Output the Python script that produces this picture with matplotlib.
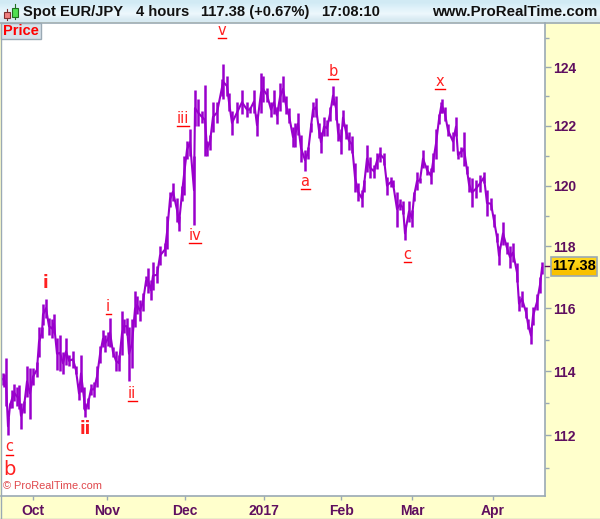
#!/usr/bin/env python3
import matplotlib
matplotlib.use("Agg")
import matplotlib.pyplot as plt
import numpy as np
from matplotlib.patches import Rectangle
from matplotlib.ticker import NullFormatter

# bar number, bar high, bar low
bars = [3, 4, 6, 8, 10, 12, 14, 17, 19, 21, 24, 27, 30, 33, 37, 39, 42, 43, 46, 49,
        52, 54, 57, 60, 63, 66, 69, 73, 76, 79, 81, 84, 85, 88, 91, 94, 97, 100, 103, 105,
        108, 110, 113, 116, 119, 122, 124, 127, 129, 132, 135, 137, 140, 143, 146, 148, 151, 153, 157, 160,
        165, 167, 170, 173, 177, 179, 182, 184, 187, 190, 194, 195, 198, 202, 205, 207, 210, 213, 217, 222,
        223, 227, 229, 232, 237, 242, 247, 250, 254, 257, 261, 263, 267, 271, 274, 277, 280, 283, 286, 289,
        293, 295, 298, 301, 305, 308, 311, 313, 316, 319, 321, 324, 327, 330, 333, 336, 338, 341, 343, 346,
        349, 352, 355, 358, 362, 364, 367, 370, 374, 377, 380, 384, 387, 391, 393, 397, 400, 403, 405, 409,
        412, 414, 417, 420, 423, 427, 431, 433, 436, 439, 441, 442, 445, 448, 453, 456, 458, 461, 464, 467,
        469, 472, 476, 480, 484, 487, 491, 494, 497, 499, 503, 507, 510, 513, 517, 519, 522, 526, 528, 531,
        533, 537, 540, 542]
highs = [113.95, 113.9, 114.4, 112.55, 113.0, 113.4, 113.6, 113.5, 113.55, 113.0, 113.05, 114.15, 114.1, 114.1, 114.3, 115.4, 115.4, 116.15, 116.3, 115.7,
         115.65, 115.8, 115.05, 115.15, 114.6, 115.05, 114.5, 114.65, 114.15, 113.5, 114.5, 113.5, 113.0, 113.15, 113.6, 113.65, 114.15, 114.8, 115.3, 115.15,
         115.25, 115.7, 114.75, 114.65, 114.5, 115.9, 115.65, 115.7, 115.4, 115.65, 116.55, 116.4, 116.25, 116.5, 117.05, 117.3, 116.9, 117.5, 117.35, 118.0,
         118.1, 119.0, 119.8, 120.1, 119.6, 119.0, 120.0, 121.0, 121.5, 121.9, 121.0, 123.2, 122.9, 122.5, 123.4, 121.5, 121.7, 122.8, 122.8, 123.6,
         124.1, 123.7, 123.1, 122.5, 122.8, 123.2, 122.8, 122.65, 123.2, 122.4, 123.8, 123.7, 123.3, 122.8, 123.2, 122.65, 123.45, 123.7, 123.0, 122.6,
         121.95, 122.1, 122.45, 121.7, 121.2, 121.3, 122.1, 122.8, 122.95, 122.1, 121.8, 122.3, 122.2, 122.65, 123.35, 123.0, 122.1, 121.9, 122.55, 122.05,
         121.8, 121.65, 120.75, 120.1, 119.85, 120.2, 121.35, 120.95, 120.7, 121.1, 121.3, 121.1, 120.3, 120.3, 120.2, 119.8, 119.55, 119.5, 118.65, 119.5,
         119.2, 119.8, 120.45, 120.25, 121.2, 120.7, 120.6, 121.1, 121.9, 122.4, 122.8, 122.9, 122.65, 122.05, 121.8, 122.3, 121.15, 121.3, 121.8, 120.65,
         120.3, 120.25, 120.2, 120.35, 120.45, 119.85, 119.6, 119.05, 118.45, 118.0, 118.8, 118.15, 118.0, 118.1, 117.45, 116.4, 116.55, 116.05, 115.65, 115.4,
         116.05, 116.45, 117.0, 117.5]
lows = [113.55, 113.5, 112.9, 112.0, 112.85, 112.85, 113.05, 112.9, 112.8, 112.2, 112.7, 113.2, 112.5, 113.55, 113.8, 114.45, 115.05, 115.45, 115.7, 115.15,
        115.05, 115.2, 114.05, 114.0, 113.9, 114.2, 114.15, 114.1, 113.9, 113.1, 113.35, 112.8, 112.55, 112.8, 113.25, 113.2, 113.5, 114.25, 114.75, 114.6,
        114.8, 114.75, 114.45, 114.0, 114.0, 114.5, 115.2, 115.15, 113.7, 114.1, 115.4, 115.8, 115.6, 115.9, 116.7, 116.5, 116.25, 116.6, 116.8, 117.4,
        117.7, 117.9, 119.3, 119.5, 118.8, 118.5, 119.5, 119.7, 120.9, 121.0, 118.7, 122.0, 122.0, 122.1, 121.0, 121.0, 121.2, 121.8, 122.1, 123.0,
        122.9, 123.0, 122.5, 121.7, 122.1, 122.4, 122.3, 122.45, 122.45, 121.65, 122.45, 122.8, 122.8, 122.3, 122.4, 122.05, 122.5, 122.8, 122.4, 122.1,
        121.3, 121.3, 121.7, 120.8, 120.5, 120.9, 121.8, 122.3, 122.3, 121.6, 121.1, 121.65, 121.65, 122.15, 122.7, 122.2, 121.5, 121.05, 122.0, 121.55,
        121.2, 121.1, 119.8, 119.5, 119.3, 119.8, 120.45, 120.25, 120.25, 120.55, 120.8, 120.7, 119.7, 119.95, 119.95, 118.65, 119.2, 119.05, 118.2, 118.8,
        118.65, 119.5, 119.85, 120.1, 120.6, 120.35, 120.05, 120.45, 120.9, 122.05, 122.45, 122.45, 122.15, 121.65, 121.15, 121.65, 120.9, 120.95, 120.65, 120.4,
        119.8, 119.3, 119.6, 119.8, 120.1, 119.0, 119.2, 118.65, 118.15, 117.4, 118.05, 117.75, 117.3, 117.5, 116.85, 115.9, 116.05, 115.7, 115.35, 114.85,
        115.45, 115.95, 116.5, 117.1]

price_ticks = [112, 114, 116, 118, 120, 122, 124]
minor_ticks = [111, 113, 115, 117, 119, 121, 123, 125]
month_bars = [33, 107, 185, 264, 341, 412, 493]
month_labels = ["Oct", "Nov", "Dec", "2017", "Feb", "Mar", "Apr"]
last_price = 117.38

# label, bar, price, size, bold, underline half width
wave_labels = [
    ("c", 9, 111.4, 10.5, False, 3.5),
    ("b", 9, 110.95, 14, False, 0),
    ("i", 45, 116.8, 12, True, 0),
    ("ii", 85, 112.2, 12, True, 0),
    ("i", 108, 115.8, 10.5, False, 2.5),
    ("ii", 132, 113.05, 10.5, False, 4.5),
    ("iii", 183, 122.0, 10.5, False, 6),
    ("iv", 195, 118.1, 10.5, False, 6),
    ("v", 222, 125.0, 10.5, False, 4),
    ("a", 305, 119.9, 10.5, False, 4.5),
    ("b", 333, 123.6, 10.5, False, 5),
    ("x", 440, 123.25, 10.5, False, 5),
    ("c", 407, 117.5, 10.5, False, 3.5),
]

W, H = 600, 519
PURPLE = "#9900cc"
AXIS_TXT = "#5f0f5f"
EDGE = "#9aa9b4"
plt.rcParams["font.family"] = ["Liberation Sans", "DejaVu Sans"]

fig = plt.figure(figsize=(W / 100, H / 100), dpi=100, facecolor="#ffffcc")


def box(x0, y_top, x1, y_bot):
    return [x0 / W, 1 - y_bot / H, (x1 - x0) / W, (y_bot - y_top) / H]


ax = fig.add_axes(box(1, 23, 545, 496))
ax.set_facecolor("white")
ax.vlines(bars, lows, highs, color=PURPLE, linewidth=1.8, zorder=3)
ax.plot(bars, [(h + l) / 2 for h, l in zip(highs, lows)], color=PURPLE, linewidth=1.5, zorder=3)
ax.set_yscale("log")
ax.set_xlim(1, 545)
ax.set_ylim(110.13, 125.52)
ax.yaxis.tick_right()
ax.set_yticks(price_ticks)
ax.set_yticklabels([str(p) for p in price_ticks])
ax.set_yticks(minor_ticks, minor=True)
ax.yaxis.set_minor_formatter(NullFormatter())
ax.set_xticks(month_bars)
ax.set_xticklabels(month_labels)
ax.tick_params(axis="both", which="both", color=EDGE, width=1, length=3)
ax.tick_params(axis="y", which="major", pad=2, length=4, labelcolor=AXIS_TXT, labelsize=10)
ax.tick_params(axis="x", pad=2.5, labelcolor=AXIS_TXT, labelsize=10)
for lab in ax.get_xticklabels() + ax.get_yticklabels():
    lab.set_fontweight("bold")
for name in ["top", "left"]:
    ax.spines[name].set_visible(False)
for name in ["right", "bottom"]:
    ax.spines[name].set_color(EDGE)
    ax.spines[name].set_linewidth(1.2)

for text, bar, price, size, bold, half in wave_labels:
    if half:
        # small labels sit just above their underline
        ax.annotate(text, (bar, price), xytext=(0, 2.2), textcoords="offset points", color="#ff2020",
                    fontsize=size, ha="center", va="baseline", family=["DejaVu Sans"], zorder=4)
        ax.plot([bar - half, bar + half], [price, price], color="#ff0000", linewidth=1, zorder=4, clip_on=False)
    else:
        ax.text(bar, price, text, color="#ff2020", fontsize=size, ha="center", va="center",
                fontweight="bold" if bold else "normal", family=["DejaVu Sans"], zorder=4)

ax.text(3, 110.42, "© ProRealTime.com", color="#e0484c", fontsize=7.9, va="center", ha="left")

# chrome drawn in pixel coordinates
over = fig.add_axes([0, 0, 1, 1], zorder=5)
over.patch.set_alpha(0)

grad = np.array([[0.82, 0.92, 0.96], [0.88, 0.95, 0.98], [0.93, 0.97, 0.99], [0.85, 0.92, 0.95]])[:, None, :]
over.imshow(grad, extent=(0, W, 22, 0), aspect="auto", interpolation="bilinear", zorder=1)
over.plot([0, W], [22.5, 22.5], color=EDGE, linewidth=1.2, zorder=2)
over.plot([0.5, 0.5], [23, H], color=EDGE, linewidth=1, zorder=2)
over.plot([0, W], [518.5, 518.5], color=EDGE, linewidth=1, zorder=2)

# candle icon
over.add_patch(Rectangle((3.5, 12), 6, 6, facecolor="#f08080", edgecolor="#803030", linewidth=0.8, zorder=3))
over.plot([6.5, 6.5], [9, 20], color="#803030", linewidth=0.8, zorder=2)
over.add_patch(Rectangle((11.5, 8), 6, 9, facecolor="#50e050", edgecolor="#207020", linewidth=0.8, zorder=3))
over.plot([14.5, 14.5], [4, 19], color="#207020", linewidth=0.8, zorder=2)

for x, s in [(23, "Spot EUR/JPY"), (136, "4 hours"), (201, "117.38 (+0.67%)"), (321, "17:08:10")]:
    over.text(x, 12, s, fontsize=10.6, fontweight="bold", color="#111111", ha="left", va="center", zorder=4)
over.text(597, 12, "www.ProRealTime.com", fontsize=10.8, fontweight="bold", color="#111111", ha="right", va="center", zorder=4)

over.add_patch(Rectangle((1, 23), 40, 16, facecolor="#d6e2ea", edgecolor=EDGE, linewidth=1, zorder=3))
over.text(21, 31, "Price", fontsize=10.5, fontweight="bold", color="#ff0000", ha="center", va="center", zorder=4)

# last price tag
over.plot([545, 551], [266, 266], color=AXIS_TXT, linewidth=1, zorder=2)
tag = np.array([[1.0, 0.84, 0.1], [0.98, 0.76, 0.0]])[:, None, :]
over.imshow(tag, extent=(551, 597, 276, 257), aspect="auto", interpolation="bilinear", zorder=3)
over.add_patch(Rectangle((551, 257), 46, 19, fill=False, edgecolor=EDGE, linewidth=1.2, zorder=4))
over.text(574, 266.5, f"{last_price:.2f}", fontsize=10.5, fontweight="bold", color="black", ha="center", va="center", zorder=5)

over.set_xlim(0, W)
over.set_ylim(H, 0)
over.axis("off")

fig.savefig("out.png", dpi=100)
plt.close()
